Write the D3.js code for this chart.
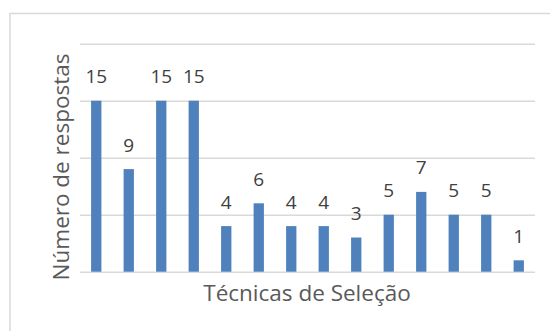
<!DOCTYPE html>
<html>
<head>
<meta charset="utf-8">
<script src="https://cdn.jsdelivr.net/npm/d3@7"></script>
<style>
  html, body { margin: 0; padding: 0; background: #fff; }
  svg { display: block; }
  text { font-family: "Open Sans", "Noto Sans", sans-serif; }
</style>
</head>
<body>
<svg id="chart" width="550" height="331"></svg>
<script>
// Respostas por técnica de seleção
const categories = ["T1", "T2", "T3", "T4", "T5", "T6", "T7", "T8", "T9", "T10", "T11", "T12", "T13", "T14"];
const values = [15, 9, 15, 15, 4, 6, 4, 4, 3, 5, 7, 5, 5, 1];
const yTicks = [0, 5, 10, 15, 20];
const xTitle = "Técnicas de Seleção";
const yTitle = "Número de respostas";

const svg = d3.select("#chart");
const plot = { left: 80, right: 535, top: 43.7, bottom: 271.7 };

// Chart area frame (runs past the right and bottom edges)
svg.append("rect")
  .attr("x", 10).attr("y", 13.5)
  .attr("width", 600).attr("height", 400)
  .attr("fill", "#fff")
  .attr("stroke", "#d9d9d9")
  .attr("stroke-width", 1.5);

const x = d3.scaleBand()
  .domain(categories)
  .range([plot.left, plot.right])
  .paddingInner(0.683)
  .paddingOuter(0.683 / 2);

const y = d3.scaleLinear()
  .domain([0, 20])
  .range([plot.bottom, plot.top]);

// Horizontal gridlines, no tick labels
const yAxis = d3.axisLeft(y)
  .tickValues(yTicks)
  .tickSize(-(plot.right - plot.left))
  .tickFormat("");
const gy = svg.append("g")
  .attr("transform", `translate(${plot.left},0)`)
  .call(yAxis);
gy.select(".domain").remove();
gy.selectAll(".tick line")
  .attr("stroke", "#d9d9d9")
  .attr("stroke-width", 1.5);

// Bars
svg.append("g")
  .selectAll("rect")
  .data(values)
  .join("rect")
  .attr("x", (d, i) => x(categories[i]))
  .attr("y", d => y(d))
  .attr("width", x.bandwidth())
  .attr("height", d => y(0) - y(d))
  .attr("fill", "#4f81bd");

// Value labels
svg.append("g")
  .selectAll("text")
  .data(values)
  .join("text")
  .attr("x", (d, i) => x(categories[i]) + x.bandwidth() / 2)
  .attr("y", d => y(d) - 17.5)
  .attr("text-anchor", "middle")
  .attr("font-size", 19)
  .attr("fill", "#404040")
  .text(d => d);

// Axis titles
svg.append("text")
  .attr("x", 307)
  .attr("y", 300.5)
  .attr("text-anchor", "middle")
  .attr("font-size", 22.5)
  .attr("fill", "#595959")
  .text(xTitle);

svg.append("text")
  .attr("transform", "translate(68.5,167) rotate(-90)")
  .attr("text-anchor", "middle")
  .attr("font-size", 22.5)
  .attr("fill", "#595959")
  .text(yTitle);
</script>
</body>
</html>
